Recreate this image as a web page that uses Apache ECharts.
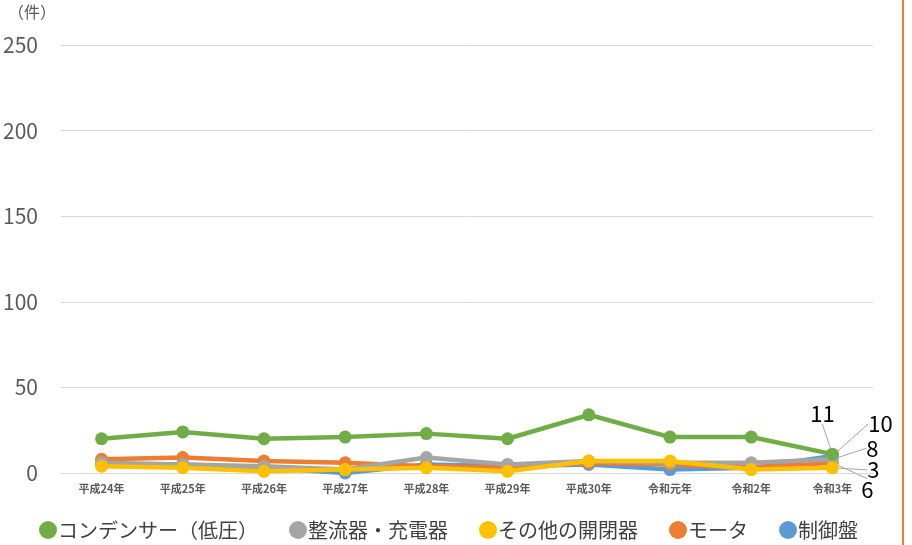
<!DOCTYPE html>
<html lang="ja" style="height:100%">
<head>
    <meta charset="UTF-8">
    <title>件数の推移</title>
    <script src="https://cdn.jsdelivr.net/npm/echarts@6/dist/echarts.min.js"></script>
</head>
<body style="height:100%;margin:0">
<div id="main" style="width:912px;height:545px;"></div>
<script type="text/javascript">
    // 年度
    var years = ['平成24年', '平成25年', '平成26年', '平成27年', '平成28年', '平成29年', '平成30年', '令和元年', '令和2年', '令和3年'];
    // 各機器の件数
    var condenser = [20, 24, 20, 21, 23, 20, 34, 21, 21, 11];
    var rectifier = [6, 5, 4, 2, 9, 5, 7, 6, 6, 8];
    var switchgear = [4, 3, 1, 2, 3, 1, 7, 7, 2, 3];
    var motor = [8, 9, 7, 6, 4, 3, 6, 5, 3, 6];
    var panel = [5, 5, 3, 0, 5, 4, 5, 2, 3, 10];
    var yTicks = [0, 50, 100, 150, 200, 250];

    var names = ['コンデンサー（低圧）', '整流器・充電器', 'その他の開閉器', 'モータ', '制御盤'];
    var colors = ['#70ad47', '#a5a5a5', '#ffc000', '#ed7d31', '#5b9bd5'];
    var values = [condenser, rectifier, switchgear, motor, panel];
    var zs = [10, 8, 9, 7, 6];
    // 最終点ラベルのずらし量
    var labelShift = [[-10, -41], [40, -11], [41, 2], [35, 27], [48, -32]];

    var myChart = echarts.init(document.getElementById('main'));
    var series = values.map(function (vals, i) {
        var last = vals.length - 1;
        return {
            name: names[i],
            type: 'line',
            z: zs[i],
            symbol: 'circle',
            symbolSize: 13,
            lineStyle: {width: 4.5, color: colors[i]},
            itemStyle: {color: colors[i]},
            data: vals.map(function (v, j) {
                if (j !== last) return v;
                return {
                    value: v,
                    label: {
                        show: true,
                        position: 'inside',
                        formatter: '{c}',
                        color: '#000',
                        fontSize: 22,
                        fontFamily: 'Noto Sans CJK JP'
                    }
                };
            }),
            labelLine: {show: true, lineStyle: {color: '#a5a5a5', width: 1}},
            labelLayout: function () {
                return {dx: labelShift[i][0], dy: labelShift[i][1]};
            }
        };
    });

    var option = {
        animation: false,
        textStyle: {fontFamily: 'Noto Sans CJK JP'},
        grid: {left: 60, right: 39, top: 45, bottom: 72},
        legend: {
            bottom: 0,
            left: 34,
            icon: 'circle',
            itemWidth: 18,
            itemHeight: 18,
            itemGap: 31,
            textStyle: {fontSize: 20, color: '#404040', padding: [0, 0, 0, -4]},
            data: names
        },
        graphic: [
            {type: 'text', left: 8, top: 4, style: {text: '（件）', fontSize: 16, fill: '#595959', fontFamily: 'Noto Sans CJK JP'}},
            {type: 'rect', right: 8, top: 0, shape: {width: 2, height: 545}, style: {fill: '#ed7d31'}}
        ],
        xAxis: {
            type: 'category',
            data: years,
            boundaryGap: true,
            axisLine: {lineStyle: {color: '#d9d9d9', width: 1}},
            axisTick: {show: false},
            axisLabel: {fontSize: 11, color: '#595959', fontWeight: 'bold', margin: 10}
        },
        yAxis: {
            type: 'value',
            min: yTicks[0],
            max: yTicks[yTicks.length - 1],
            interval: 50,
            axisLine: {show: false},
            axisTick: {show: false},
            axisLabel: {fontSize: 21, color: '#595959', margin: 23},
            splitLine: {lineStyle: {color: '#d9d9d9'}}
        },
        series: series
    };
    myChart.setOption(option);
</script>
</body>
</html>
